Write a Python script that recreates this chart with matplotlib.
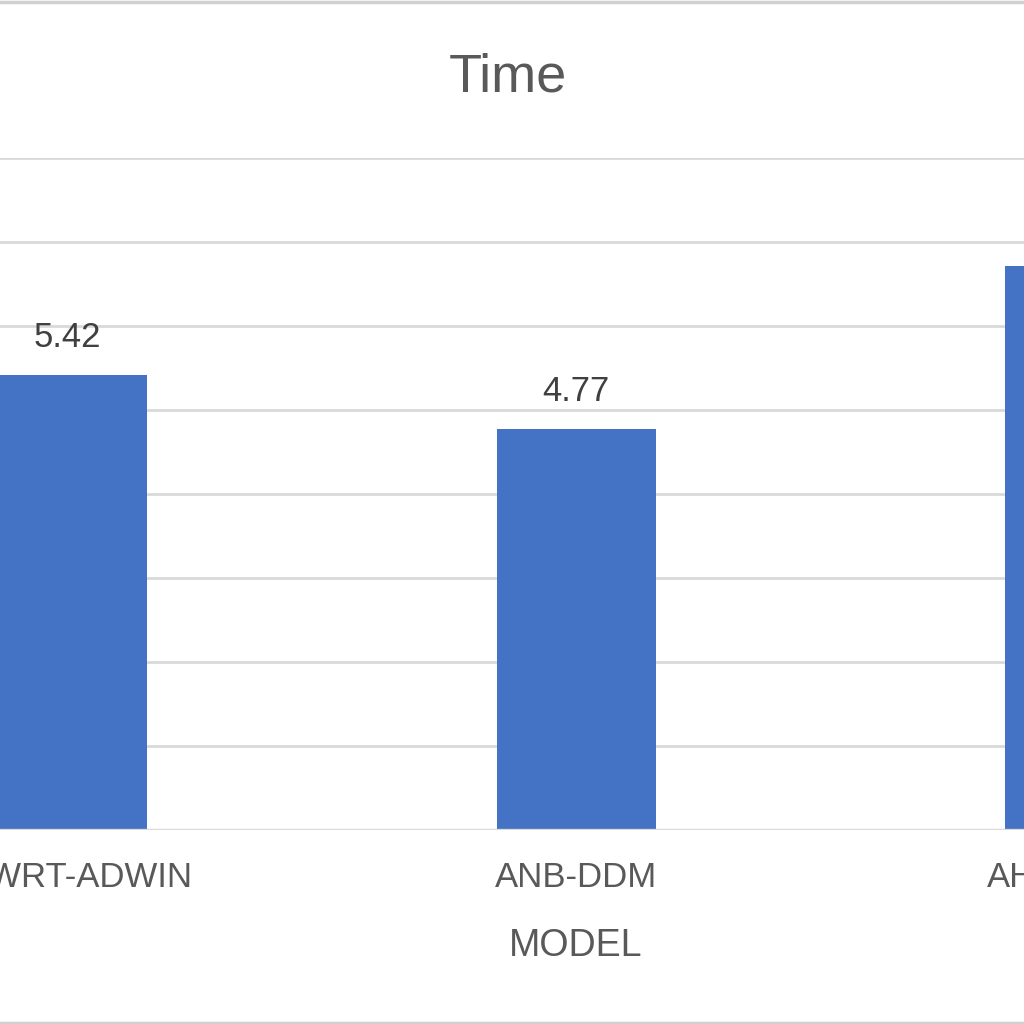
import matplotlib
matplotlib.use("Agg")
import matplotlib.pyplot as plt
from matplotlib.lines import Line2D

plt.rcParams['font.family'] = ['Liberation Sans', 'DejaVu Sans']

categories = ["AHWRT-ADWIN", "ANB-DDM", "AHT-ADWIN"]
values = [5.42, 4.77, 6.72]
yticks = [0, 1, 2, 3, 4, 5, 6, 7, 8]
title = "Time"
xlabel = "MODEL"

BAR = "#4472C4"
GRID = "#D9D9D9"
TXT = "#595959"

W = 1024
fig = plt.figure(figsize=(10.24, 10.24), dpi=100)
y0, y8 = 830, 158
# the visible frame is a crop of a wider chart: the axes run past both figure edges
L, R = -150, 1250
ax = fig.add_axes([L / W, (W - y0) / W, (R - L) / W, (y0 - y8) / W])

spacing = 508.5
c1 = 576
pos = list(range(len(categories)))
ax.bar(pos, values, width=159 / spacing, color=BAR, zorder=3)
ax.set_xticks(pos)
ax.set_xticklabels(categories, fontsize=25, color=TXT)
ax.set_xlim(1 - (c1 - L) / spacing, 1 + (R - c1) / spacing)
ax.set_ylim(0, 8)
ax.set_yticks(yticks)
ax.set_yticklabels([])
ax.tick_params(axis='y', length=0)
ax.grid(axis='y', color=GRID, linewidth=2.0, zorder=0)
for s in ax.spines.values():
    s.set_visible(False)
ax.axhline(0, color=GRID, linewidth=2.4, zorder=4)

ax.tick_params(axis='x', length=0, pad=22)
ax.set_xlabel(xlabel, fontsize=27, color=TXT)
ax.xaxis.set_label_coords((c1 - L) / (R - L), -(928 - y0) / (y0 - y8), transform=ax.transAxes)
ax.xaxis.label.set_va('top')

for i, v in zip(pos, values):
    ax.annotate(f"{v:.2f}", (i, v), xytext=(0, 15), textcoords='offset points',
                ha='center', va='bottom', fontsize=25, color="#404040")

fig.text(508 / W, 1 - 92 / W, title, ha='center', va='baseline', fontsize=39, color=TXT)

for yy in [1.5, 1022.5]:
    fig.add_artist(Line2D([0, 1], [1 - yy / W] * 2, transform=fig.transFigure,
                          color="#D0D0D0", linewidth=2.5))

fig.savefig("out.png", dpi=100, facecolor="white")
